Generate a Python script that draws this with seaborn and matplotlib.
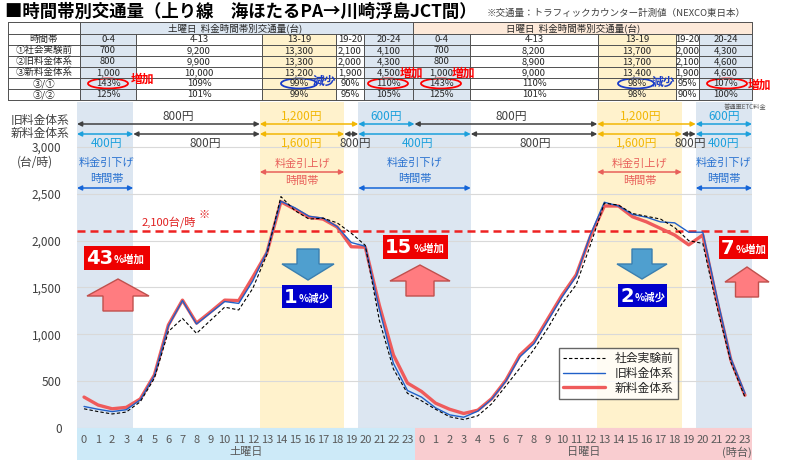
import numpy as np
import pandas as pd
import matplotlib
matplotlib.use('Agg')
import matplotlib.pyplot as plt
import seaborn as sns
from matplotlib.patches import Rectangle, Polygon, Ellipse
from matplotlib.transforms import blended_transform_factory

# ---- data ----
hours = list(range(24)) * 2

before = [205, 175, 150, 170, 280, 530, 1030, 1170, 1010, 1150, 1290, 1260,
          1490, 1850, 2470, 2320, 2230, 2240, 2190, 2080, 1950, 1150, 630, 370,
          290, 200, 120, 90, 130, 260, 450, 640, 840, 1070, 1330, 1530,
          1950, 2400, 2380, 2290, 2260, 2230, 2140, 2000, 1970, 1300, 700, 330]
old_fee = [230, 200, 175, 195, 300, 560, 1090, 1360, 1110, 1230, 1350, 1330,
           1570, 1880, 2420, 2350, 2260, 2240, 2150, 1980, 1940, 1270, 690, 400,
           330, 215, 140, 115, 180, 310, 500, 760, 900, 1150, 1400, 1620,
           2060, 2410, 2370, 2280, 2250, 2200, 2190, 2090, 2090, 1400, 740, 370]
new_fee = [330, 245, 205, 220, 310, 565, 1100, 1365, 1120, 1240, 1365, 1360,
           1610, 1870, 2415, 2335, 2250, 2230, 2145, 1935, 1930, 1310, 780, 480,
           390, 265, 200, 155, 190, 315, 510, 780, 920, 1170, 1420, 1635,
           2040, 2370, 2370, 2255, 2200, 2130, 2060, 1955, 2060, 1365, 725, 350]

series_names = ['社会実験前', '旧料金体系', '新料金体系']

col_heads = ['0-4', '4-13', '13-19', '19-20', '20-24']
row_heads = ['時間帯', '①社会実験前', '②旧料金体系', '③新料金体系', '③/①', '③/②']
sat_before = [700, 9200, 13300, 2100, 4100]
sat_old = [800, 9900, 13300, 2000, 4300]
sat_new = [1000, 10000, 13200, 1900, 4500]
sat_r31 = [143, 109, 99, 90, 110]
sat_r32 = [125, 101, 99, 95, 105]
sun_before = [700, 8200, 13700, 2000, 4300]
sun_old = [800, 8900, 13700, 2100, 4600]
sun_new = [1000, 9000, 13400, 1900, 4600]
sun_r31 = [143, 110, 98, 95, 107]
sun_r32 = [125, 101, 98, 90, 100]

# fee periods (hour edges) and labels
old_periods = [(-0.5, 12.5, '800円'), (12.5, 19.5, '1,200円'), (19.5, 23.5, '600円'),
               (23.5, 36.5, '800円'), (36.5, 43.5, '1,200円'), (43.5, 47.5, '600円')]
new_periods = [(-0.5, 3.5, '400円'), (3.5, 12.5, '800円'), (12.5, 18.5, '1,600円'),
               (18.5, 19.5, '800円'), (19.5, 27.5, '400円'), (27.5, 36.5, '800円'),
               (36.5, 42.5, '1,600円'), (42.5, 43.5, '800円'), (43.5, 47.5, '400円')]
discount_spans = [(-0.5, 3.5), (19.5, 27.5), (43.5, 47.5)]
premium_spans = [(12.5, 18.5), (36.5, 42.5)]
limit = 2100

# ---- colours ----
RED = '#ef5b5b'
BLUE_LINE = '#2060c8'
BAND_BLUE = '#dce6f1'
BAND_YEL = '#fff2cc'
DARK = '#404040'
GOLD = '#f2b705'
CYAN = '#1ca0dc'
TXT_BLUE = '#2a72d0'
TXT_RED = '#e8605a'
fee_color = {'800円': DARK, '1,200円': GOLD, '1,600円': GOLD, '600円': CYAN, '400円': CYAN}

sns.set_theme(style='white')
plt.rcParams['font.family'] = ['Noto Sans CJK JP', 'DejaVu Sans']
plt.rcParams['axes.unicode_minus'] = False

fig = plt.figure(figsize=(7.85, 4.65), dpi=100)
ax = fig.add_axes([77 / 785, 37 / 465, 675 / 785, 326 / 465])
ov = fig.add_axes([0, 0, 1, 1])
ov.set_xlim(0, 785)
ov.set_ylim(465, 0)
ov.axis('off')
ov.patch.set_alpha(0)

# ---- main chart ----
df = pd.DataFrame({'idx': np.arange(48), series_names[0]: before,
                   series_names[1]: old_fee, series_names[2]: new_fee})

for a, b in discount_spans:
    ax.axvspan(a, b, color=BAND_BLUE, lw=0, zorder=0.1)
for a, b in premium_spans:
    ax.axvspan(a, b, color=BAND_YEL, lw=0, zorder=0.1)

sns.lineplot(data=df, x='idx', y=series_names[2], ax=ax, color=RED, lw=2.4,
             label=series_names[2], zorder=3)
sns.lineplot(data=df, x='idx', y=series_names[1], ax=ax, color=BLUE_LINE, lw=1.0,
             label=series_names[1], zorder=4)
sns.lineplot(data=df, x='idx', y=series_names[0], ax=ax, color='black', lw=0.8,
             dashes=(3, 2), label=series_names[0], zorder=5)

ax.axhline(limit, color='#ee2222', lw=1.8, dashes=(3.2, 2), zorder=2)

ax.set_xlim(-0.5, 47.5)
ax.set_ylim(0, 3480)
ax.set_yticks(range(0, 3001, 500))
ax.set_yticklabels([f'{v:,}' for v in range(0, 3001, 500)])
ax.set_xticks(range(48))
ax.set_xticklabels([str(h) for h in hours])
ax.tick_params(axis='x', length=0, pad=5, labelsize=8, labelcolor='#595959')
ax.tick_params(axis='y', length=0, pad=11, labelsize=8.5, labelcolor=DARK)
ax.set_xlabel('')
ax.set_ylabel('')
ax.grid(axis='y', color='#d9d9d9', lw=0.8)
ax.set_axisbelow(True)
for s in ax.spines.values():
    s.set_visible(False)

# day bands under the x axis
xb = blended_transform_factory(ax.transData, ax.transAxes)
ax.add_patch(Rectangle((-0.5, -0.097), 24, 0.097, transform=xb, fc='#cdeaf8',
                       lw=0, clip_on=False, zorder=0))
ax.add_patch(Rectangle((23.5, -0.097), 24, 0.097, transform=xb, fc='#f9cdd0',
                       lw=0, clip_on=False, zorder=0))
ax.text(11.5, -0.075, '土曜日', transform=xb, ha='center', va='center',
        fontsize=8, color='#595959')
ax.text(35.5, -0.075, '日曜日', transform=xb, ha='center', va='center',
        fontsize=8, color='#595959')
ax.text(46.4, -0.075, '(時台)', transform=xb, ha='center', va='center',
        fontsize=8, color='#595959')

handles, labels = ax.get_legend_handles_labels()
order = [labels.index(n) for n in series_names]
leg = ax.legend([handles[i] for i in order], [labels[i] for i in order],
                loc='lower left', bbox_to_anchor=(0.705, 0.072), frameon=True,
                fancybox=False, edgecolor=DARK, fontsize=8.5, handlelength=3.6,
                borderpad=0.35, labelspacing=0.15, handletextpad=0.8)
leg.get_frame().set_linewidth(1.0)

# ---- overlay: title, table, fee arrows, callouts ----
ov.text(5, 12, '■時間帯別交通量（上り線　海ほたるPA→川崎浮島JCT間）', fontsize=12.5,
        weight='bold', ha='left', va='center', color='black')
ov.text(487, 13, '※交通量：トラフィックカウンター計測値（NEXCO東日本）', fontsize=6.8,
        ha='left', va='center', color=DARK)

row_y = [22, 34, 45, 56, 67, 78, 89, 100]
sat_x = [80, 136, 262, 336, 364, 413]
sun_x = [413, 470, 598, 676, 699, 752]
ov.add_patch(Rectangle((80, 22), 333, 12, fc='#dce6f1', lw=0))
ov.add_patch(Rectangle((413, 22), 339, 12, fc='#fde9d9', lw=0))
for edges in (sat_x, sun_x):
    for ci, fc in enumerate([BAND_BLUE, None, BAND_YEL, None, BAND_BLUE]):
        if fc:
            ov.add_patch(Rectangle((edges[ci], 34), edges[ci + 1] - edges[ci], 66,
                                   fc=fc, lw=0))
for y in row_y:
    ov.plot([8, 752], [y, y], color='#505050', lw=0.7)
for x in [8, 80, 413, 752]:
    ov.plot([x, x], [22, 100], color='#505050', lw=0.7)
for x in sat_x[1:-1] + sun_x[1:-1]:
    ov.plot([x, x], [34, 100], color='#505050', lw=0.7)
ov.text(235, 28, '土曜日  料金時間帯別交通量(台)', fontsize=6.8, ha='center', va='center', color='#262626')
ov.text(573, 28, '日曜日  料金時間帯別交通量(台)', fontsize=6.8, ha='center', va='center', color='#262626')
for ri, name in enumerate(row_heads):
    ov.text(44, (row_y[ri + 1] + row_y[ri + 2]) / 2, name, fontsize=6.8,
            ha='center', va='center', color='#262626')


def fill_table(edges, rows):
    for ci in range(5):
        cx = (edges[ci] + edges[ci + 1]) / 2
        cells = [col_heads[ci], f'{rows[0][ci]:,}', f'{rows[1][ci]:,}',
                 f'{rows[2][ci]:,}', f'{rows[3][ci]}%', f'{rows[4][ci]}%']
        for ri, txt in enumerate(cells):
            ov.text(cx, (row_y[ri + 1] + row_y[ri + 2]) / 2, txt, fontsize=6.8,
                    ha='center', va='center', color='#262626')


fill_table(sat_x, [sat_before, sat_old, sat_new, sat_r31, sat_r32])
fill_table(sun_x, [sun_before, sun_old, sun_new, sun_r31, sun_r32])

# ellipses and marks in the table
for cx, col, w in [(108, 'red', 40), (388, 'red', 40), (441, 'red', 40), (727, 'red', 40),
                   (299, '#1a3cc8', 36), (636, '#1a3cc8', 36)]:
    ov.add_patch(Ellipse((cx, 83.5), w, 10, fill=False, ec=col, lw=1.3))
for x, y, t, c in [(143, 79, '増加', 'red'), (412, 73, '増加', 'red'),
                   (464, 73, '増加', 'red'), (760, 85, '増加', 'red'),
                   (324, 81, '減少', '#1a3cc8'), (663, 82, '減少', '#1a3cc8')]:
    ov.text(x, y, t, fontsize=8.5, weight='bold', color=c, ha='center', va='center')
ov.text(745, 107, '普通車ETC料金', fontsize=4.5, color='#595959', ha='center', va='center')

# fee arrows
bt = blended_transform_factory(ax.transData, ov.transData)
ov.text(40, 120, '旧料金体系', fontsize=8.5, color=DARK, ha='center', va='center')
ov.text(40, 133, '新料金体系', fontsize=8.5, color=DARK, ha='center', va='center')
ov.text(35, 162, '(台/時)', fontsize=8.5, color=DARK, ha='center', va='center')


def fee_arrow(a, b, y, color):
    ov.annotate('', xy=(b, y), xycoords=bt, xytext=(a, y), textcoords=bt,
                arrowprops=dict(arrowstyle='<|-|>', color=color, lw=1.1,
                                mutation_scale=7, shrinkA=0, shrinkB=0))


old_label_x = [6.7, 15.5, 21.5, 30.4, 39.6, 45.5]
for (a, b, lab), lx in zip(old_periods, old_label_x):
    fee_arrow(a, b, 124, fee_color[lab])
    ov.text(lx, 116.5, lab, transform=bt, fontsize=8.5, color=fee_color[lab],
            ha='center', va='center')
new_label_x = [1.6, 8.6, 15.5, 19.3, 23.7, 32.1, 39.3, 43.1, 45.5]
for (a, b, lab), lx in zip(new_periods, new_label_x):
    fee_arrow(a, b, 134, fee_color[lab])
    ov.text(lx, 143, lab, transform=bt, fontsize=8.5, color=fee_color[lab],
            ha='center', va='center')

# discount / premium period markers
for (a, b), lx in zip(discount_spans, [1.6, 23.5, 45.5]):
    ov.text(lx, 163, '料金引下げ', transform=bt, fontsize=8, color=TXT_BLUE, ha='center', va='center')
    ov.text(lx, 179, '時間帯', transform=bt, fontsize=8, color=TXT_BLUE, ha='center', va='center')
    ov.annotate('', xy=(b, 188), xycoords=bt, xytext=(a, 188), textcoords=bt,
                arrowprops=dict(arrowstyle='<|-|>', color='#1565d8', lw=1.1,
                                mutation_scale=7, shrinkA=0, shrinkB=0))
for a, b in premium_spans:
    lx = (a + b) / 2
    ov.annotate('', xy=(b, 172), xycoords=bt, xytext=(a, 172), textcoords=bt,
                arrowprops=dict(arrowstyle='<|-|>', color=TXT_RED, lw=1.1,
                                mutation_scale=7, shrinkA=0, shrinkB=0))
    ov.text(lx, 164, '料金引上げ', transform=bt, fontsize=8, color=TXT_RED, ha='center', va='center')
    ov.text(lx, 181, '時間帯', transform=bt, fontsize=8, color=TXT_RED, ha='center', va='center')

ov.text(142, 222, '2,100台/時', fontsize=8, color='#e02020', ha='left', va='center')
ov.text(199, 215, '※', fontsize=8, color='#e02020', ha='left', va='center')

renderer = fig.canvas.get_renderer()


def callout(x0, x1, y0, y1, num, unit, fc):
    ov.add_patch(Rectangle((x0, y0), x1 - x0, y1 - y0, fc=fc, lw=0))
    t = ov.text(x0 + 2, (y0 + y1) / 2 + 0.5, num, fontsize=14, weight='bold',
                color='white', ha='left', va='center',
                family=['DejaVu Sans'])
    bb = t.get_window_extent(renderer=renderer)
    x_end = ov.transData.inverted().transform((bb.x1, bb.y0))[0]
    ov.text(x_end + 1, (y0 + y1) / 2 + 2, unit, fontsize=7.5, weight='bold',
            color='white', ha='left', va='center')


def up_arrow(cx, top, hb, bot, hw, sw):
    pts = [(cx, top), (cx + hw, hb), (cx + sw, hb), (cx + sw, bot),
           (cx - sw, bot), (cx - sw, hb), (cx - hw, hb)]
    ov.add_patch(Polygon(pts, closed=True, fc='#ff7c80', ec='#c0504d', lw=1))


def down_arrow(cx, top, ht, tip, hw, sw):
    pts = [(cx - sw, top), (cx + sw, top), (cx + sw, ht), (cx + hw, ht),
           (cx, tip), (cx - hw, ht), (cx - sw, ht)]
    ov.add_patch(Polygon(pts, closed=True, fc='#4f9fcf', ec='#3a7fb0', lw=1))


callout(84, 150, 246, 270, '43', '%増加', '#ee0000')
callout(383, 448, 235, 259, '15', '%増加', '#ee0000')
callout(719, 768, 236, 259, '7', '%増加', '#ee0000')
callout(282, 332, 285, 308, '1', '%減少', '#0000cc')
callout(618, 667, 284, 307, '2', '%減少', '#0000cc')
up_arrow(118, 279, 296, 311, 31, 15)
up_arrow(420, 265, 281, 296, 30, 14)
up_arrow(747, 267, 282, 297, 22, 11.5)
down_arrow(308, 249, 264, 280, 26, 11)
down_arrow(642, 249, 264, 279, 25, 10)

fig.savefig('out.png', dpi=100)
